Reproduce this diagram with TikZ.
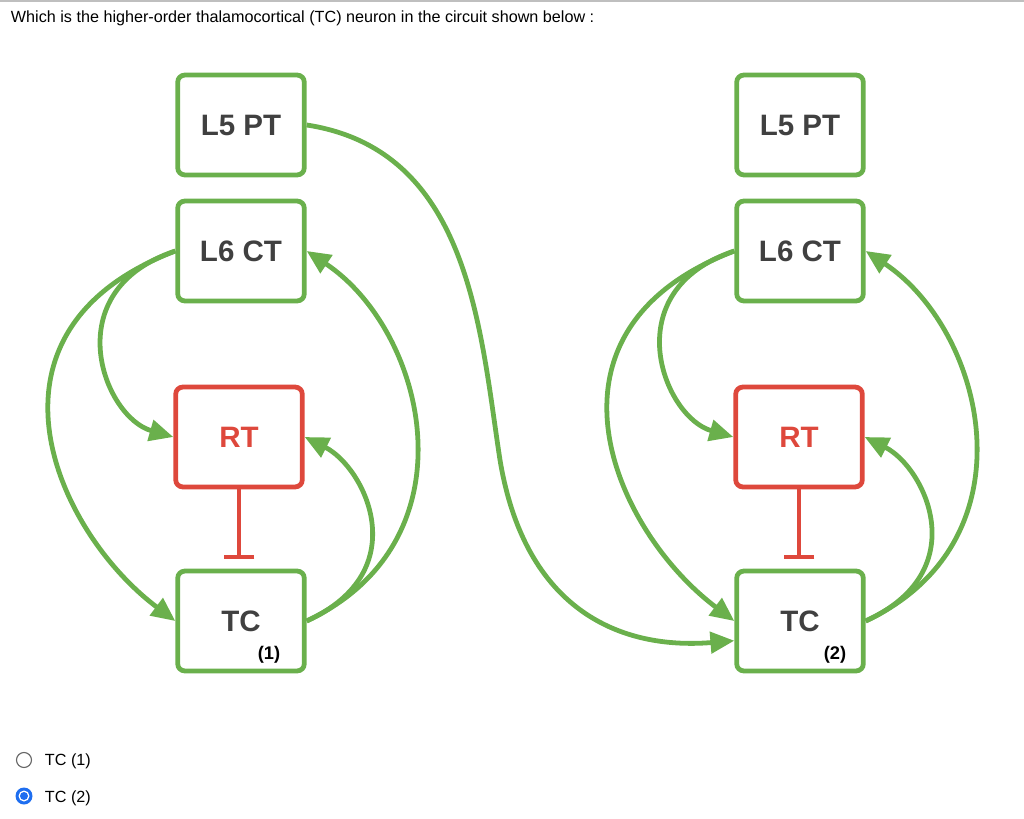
\documentclass[tikz,border=0pt]{standalone}
\usepackage{fontspec}
\setmainfont{Liberation Sans}
\usepackage{tikz}
\usetikzlibrary{arrows.meta}
\definecolor{cgreen}{RGB}{106,176,76}
\definecolor{cred}{RGB}{222,72,60}
\definecolor{cblue}{RGB}{30,110,240}
\tikzset{
  cell/.style={draw=cgreen, rounded corners=5pt, line width=3.4pt, minimum width=90pt, minimum height=71pt, font=\fontsize{21}{23}\selectfont\bfseries, text=black!75},
  inhib/.style={cell, draw=cred, text=cred},
  link/.style={-{Triangle[length=17pt,width=15pt]}, draw=cgreen, line width=3.4pt, color=cgreen},
  block/.style={-{Bar[width=22pt]}, draw=cred, line width=3.4pt}
}
\begin{document}
\begin{tikzpicture}[x=0.025cm, y=-0.025cm]
      \useasboundingbox (0,0) rectangle (1024,819);
      \draw[black!25, line width=1pt] (0,1) -- (1024,1);
      \node[anchor=west, font=\fontsize{11.5}{13}\selectfont] (q) at (6,18) {Which is the higher-order thalamocortical (TC) neuron in the circuit shown below :};
      % left circuit
      \node[cell]  (l5a) at (241,125) {L5 PT};
      \node[cell]  (l6a) at (241,251) {L6 CT};
      \node[inhib] (rta) at (239,437) {RT};
      \node[cell]  (tca) at (241,621) {TC};
      \node[font=\fontsize{13}{15}\selectfont\bfseries] (na) at (269,655) {(1)};
      % right circuit
      \node[cell]  (l5b) at (800,125) {L5 PT};
      \node[cell]  (l6b) at (800,251) {L6 CT};
      \node[inhib] (rtb) at (799,437) {RT};
      \node[cell]  (tcb) at (800,621) {TC};
      \node[font=\fontsize{13}{15}\selectfont\bfseries] (nb) at (835,655) {(2)};
      % inhibition
      \draw[block] (rta.south) -- ++(0,70);
      \draw[block] (rtb.south) -- ++(0,70);
      % loops
      \foreach \c in {a,b} {
        \draw[link] (l6\c.west) .. controls +(-120,40) and +(-70,-20) .. (rt\c.west);
        \draw[link] (l6\c.west) .. controls +(-210,80) and +(-120,-90) .. (tc\c.west);
        \draw[link] (tc\c.east) .. controls +(110,-50) and +(60,30) .. (rt\c.east);
        \draw[link] (tc\c.east) .. controls +(170,-80) and +(120,80) .. (l6\c.east);
      }
      % projection to the second circuit
      \draw[link] (l5a.east) .. controls (470,150) and (480,330) .. (500,460)
          .. controls (525,610) and (620,650) .. ([yshift=-14pt]tcb.west);
      % answers
      \draw[black!60, line width=0.8pt] (24,760) circle (7.5);
      \node[anchor=west, font=\fontsize{11.5}{13}\selectfont] (o1) at (40,761) {TC (1)};
      \fill[cblue] (24,796) circle (8.5);
      \fill[white] (24,796) circle (5.5);
      \fill[cblue] (24,796) circle (4);
      \node[anchor=west, font=\fontsize{11.5}{13}\selectfont] (o2) at (40,798) {TC (2)};
\end{tikzpicture}
\end{document}
